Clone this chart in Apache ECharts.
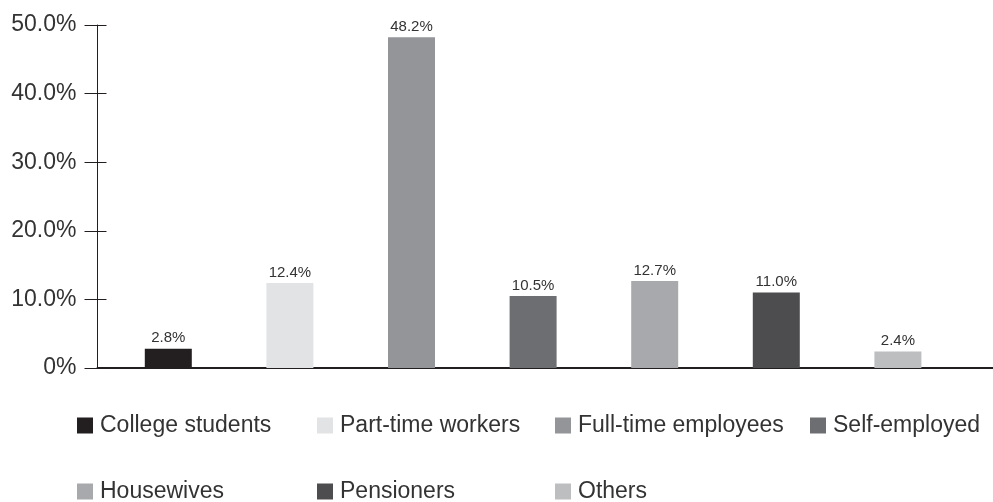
<!DOCTYPE html>
<html>
<head>
<meta charset="utf-8">
<script src="https://cdn.jsdelivr.net/npm/echarts@6/dist/echarts.min.js"></script>
<style>
html,body{margin:0;padding:0;background:#fff;}
#c{width:993px;height:502px;}
</style>
</head>
<body>
<div id="c"></div>
<script>
const categories = ['College students','Part-time workers','Full-time employees','Self-employed','Housewives','Pensioners','Others'];
const values = [2.8, 12.4, 48.2, 10.5, 12.7, 11.0, 2.4];
const colors = ['#231f20','#e2e3e4','#939598','#6d6e71','#a7a9ac','#4d4d4f','#bcbec0'];
const yTickLabels = ['0%','10.0%','20.0%','30.0%','40.0%','50.0%'];

const FONT = 'Liberation Sans, Arial, sans-serif';
const chart = echarts.init(document.getElementById('c'), null, {renderer:'canvas'});

const series = categories.map((name, i) => ({
  name: name,
  type: 'bar',
  stack: 'total',
  xAxisIndex: 0,
  yAxisIndex: 0,
  barWidth: 47,
  itemStyle: {color: colors[i]},
  label: {
    show: true, position: 'top', distance: 3,
    fontFamily: FONT, fontSize: 15, color: '#333',
    formatter: p => Number(p.value).toFixed(1) + '%'
  },
  data: categories.map((c, j) => j === i ? values[i] : '-')
}));

const legendLeft = [77, 317, 555, 810, 77, 317, 555];
const legendTop = [414, 414, 414, 414, 480, 480, 480];
const legends = categories.map((name, i) => ({
  data: [name],
  left: legendLeft[i],
  top: legendTop[i],
  padding: 0,
  icon: 'rect',
  itemWidth: 16,
  itemHeight: 16,
  selectedMode: false,
  textStyle: {fontFamily: FONT, fontSize: 23, color: '#333', padding: [0,0,0,2]}
}));

chart.setOption({
  animation: false,
  backgroundColor: '#fff',
  grid: [
    {left: 107.5, right: 34.3, top: 25, bottom: 134},
    {left: 97.5, right: 0, top: 25, bottom: 134}
  ],
  legend: legends,
  xAxis: [
    {type: 'category', gridIndex: 0, data: categories,
     axisLine: {show: false}, axisTick: {show: false}, axisLabel: {show: false}},
    {type: 'category', gridIndex: 1, data: [''],
     axisLine: {show: true, lineStyle: {color: '#231f20', width: 2}},
     axisTick: {show: false}, axisLabel: {show: false}}
  ],
  yAxis: [
    {type: 'value', gridIndex: 0, min: 0, max: 50, interval: 10,
     axisLine: {show: false}, axisTick: {show: false}, axisLabel: {show: false}, splitLine: {show: false}},
    {type: 'value', gridIndex: 1, min: 0, max: 50, interval: 10, position: 'left',
     axisLine: {show: true, lineStyle: {color: '#231f20', width: 1}},
     axisTick: {show: true, length: 13, lineStyle: {color: '#231f20', width: 1}},
     axisLabel: {show: true, margin: 21, fontFamily: FONT, fontSize: 23, color: '#333',
       formatter: v => yTickLabels[Math.round(v / 10)]},
     splitLine: {show: false}},
    {type: 'value', gridIndex: 1, min: 0, max: 50, interval: 10, position: 'left', offset: 0,
     axisLine: {show: false},
     axisTick: {show: true, inside: true, length: 9, lineStyle: {color: '#231f20', width: 1}},
     axisLabel: {show: false}, splitLine: {show: false}}
  ],
  series: series
});
</script>
</body>
</html>
